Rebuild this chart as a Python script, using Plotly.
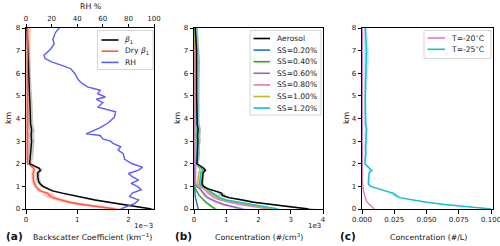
import plotly.graph_objects as go

# ---------------- data ----------------
H = [0, 0.1, 0.2, 0.3, 0.4, 0.5, 0.6, 0.7, 0.8, 0.9, 1.0, 1.1, 1.2, 1.4, 1.6, 1.7, 1.8, 1.9, 2.0,
     2.25, 2.5, 2.75, 3, 3.25, 3.5, 3.75, 4, 4.5, 5, 5.5, 6, 6.5, 7, 7.5, 8]

# panel (a): backscatter, units 1e-3 km^-1
beta1 = [2.45, 2.15, 1.9, 1.62, 1.35, 1.12, 0.92, 0.71, 0.52, 0.41, 0.33, 0.28, 0.25, 0.23, 0.23, 0.28, 0.26, 0.17, 0.07,
         0.08, 0.09, 0.1, 0.11, 0.1, 0.11, 0.09, 0.09, 0.08, 0.07, 0.06, 0.05, 0.05, 0.04, 0.03, 0.02]
beta1_sd = [0.12, 0.12, 0.11, 0.1, 0.1, 0.09, 0.08, 0.07, 0.06, 0.05, 0.05, 0.04, 0.04, 0.04, 0.04, 0.05, 0.05, 0.05, 0.04,
            0.06, 0.06, 0.06, 0.06, 0.06, 0.06, 0.05, 0.05, 0.05, 0.05, 0.05, 0.04, 0.04, 0.03, 0.03, 0.02]
dry_beta1 = [1.75, 1.4, 1.1, 0.85, 0.68, 0.52, 0.46, 0.42, 0.28, 0.23, 0.19, 0.17, 0.15, 0.14, 0.14, 0.16, 0.15, 0.1, 0.03,
             0.025, 0.025, 0.03, 0.03, 0.03, 0.03, 0.03, 0.03, 0.03, 0.03, 0.03, 0.03, 0.03, 0.03, 0.03, 0.03]
dry_beta1_sd = [0.2, 0.2, 0.18, 0.15, 0.13, 0.11, 0.1, 0.1, 0.07, 0.05, 0.04, 0.04, 0.04, 0.04, 0.04, 0.04, 0.04, 0.03, 0.02,
                0.02, 0.02, 0.02, 0.025, 0.025, 0.025, 0.03, 0.03, 0.035, 0.04, 0.04, 0.045, 0.05, 0.055, 0.06, 0.065]

H_RH = [0.0, 0.1, 0.25, 0.4, 0.55, 0.7, 0.85, 1.0, 1.13, 1.28, 1.43, 1.57, 1.72, 1.85, 2.0, 2.2, 2.45, 2.6, 2.75,
        2.9, 3.0, 3.1, 3.25, 3.32, 3.45, 3.6, 3.8, 4.05, 4.3, 4.5, 4.7, 4.85, 4.95, 5.1, 5.25, 5.4, 5.55, 5.7,
        6.0, 6.2, 6.35, 6.5, 6.65, 6.8, 7.05, 7.3, 7.5, 7.8, 8.0]
RH = [74, 79, 85, 88, 81, 83, 90, 87, 82, 88, 83, 80, 88, 91, 83, 77, 76, 72, 74,
      68, 66, 60, 58, 47, 52, 58, 64, 69, 70, 56, 60, 55, 62, 56, 58, 48, 44, 41,
      38, 35, 28, 20, 15, 14, 19, 22, 21, 23, 26]

# panel (b): number concentration, units 1e3 #/cm3
aerosol = [3.55, 3.0, 2.4, 1.85, 1.5, 1.08, 0.88, 0.85, 0.65, 0.42, 0.3, 0.25, 0.25, 0.26, 0.28, 0.35, 0.3, 0.2, 0.09,
           0.1, 0.11, 0.1, 0.12, 0.11, 0.13, 0.1, 0.09, 0.09, 0.08, 0.08, 0.08, 0.09, 0.08, 0.06, 0.04]
aerosol_sd = [0.25, 0.22, 0.2, 0.17, 0.15, 0.12, 0.1, 0.1, 0.09, 0.07, 0.06, 0.05, 0.05, 0.05, 0.05, 0.06, 0.06, 0.05, 0.05,
              0.08, 0.08, 0.08, 0.09, 0.09, 0.09, 0.08, 0.08, 0.08, 0.08, 0.09, 0.1, 0.1, 0.1, 0.09, 0.08]
ss020 = [0.13, 0.11, 0.09, 0.07, 0.055, 0.045, 0.035, 0.028, 0.02, 0.015, 0.01, 0.006, 0.004, 0.004, 0.004, 0.004, 0.004, 0.003, 0.003,
         0.002, 0.002, 0.002, 0.002, 0.002, 0.002, 0.002, 0.002, 0.002, 0.002, 0.002, 0.002, 0.002, 0.002, 0.002, 0.002]
ss040 = [0.66, 0.55, 0.45, 0.37, 0.3, 0.22, 0.16, 0.12, 0.07, 0.04, 0.02, 0.01, 0.008, 0.008, 0.008, 0.01, 0.008, 0.006, 0.005,
         0.005, 0.005, 0.005, 0.005, 0.005, 0.005, 0.004, 0.004, 0.004, 0.004, 0.004, 0.004, 0.004, 0.004, 0.003, 0.003]
ss060 = [1.5, 1.17, 0.92, 0.72, 0.55, 0.42, 0.35, 0.3, 0.24, 0.18, 0.08, 0.03, 0.02, 0.02, 0.025, 0.03, 0.025, 0.02, 0.015,
         0.015, 0.015, 0.015, 0.015, 0.015, 0.015, 0.012, 0.012, 0.012, 0.01, 0.01, 0.01, 0.01, 0.01, 0.008, 0.006]
ss080 = [2.3, 1.8, 1.45, 1.1, 0.8, 0.62, 0.52, 0.45, 0.38, 0.3, 0.15, 0.06, 0.05, 0.05, 0.06, 0.07, 0.06, 0.05, 0.03,
         0.03, 0.03, 0.03, 0.035, 0.03, 0.035, 0.03, 0.03, 0.03, 0.025, 0.025, 0.025, 0.03, 0.025, 0.02, 0.015]
ss100 = [2.45, 2.05, 1.65, 1.28, 0.92, 0.72, 0.6, 0.52, 0.44, 0.35, 0.2, 0.12, 0.12, 0.13, 0.15, 0.19, 0.17, 0.11, 0.05,
         0.05, 0.05, 0.05, 0.06, 0.05, 0.06, 0.05, 0.05, 0.05, 0.04, 0.04, 0.04, 0.05, 0.04, 0.03, 0.02]
ss120 = [2.6, 2.2, 1.8, 1.4, 1.0, 0.8, 0.68, 0.58, 0.5, 0.4, 0.25, 0.18, 0.18, 0.19, 0.21, 0.27, 0.23, 0.15, 0.07,
         0.08, 0.09, 0.08, 0.1, 0.09, 0.11, 0.08, 0.08, 0.08, 0.07, 0.07, 0.07, 0.08, 0.07, 0.05, 0.03]
ss020_sd = [0.02, 0.02, 0.015, 0.012, 0.01, 0.008, 0.006, 0.005, 0.004, 0.003, 0.002, 0.002, 0.002, 0.002, 0.002, 0.002, 0.002, 0.002, 0.002,
            0.002, 0.002, 0.002, 0.002, 0.002, 0.002, 0.002, 0.002, 0.002, 0.002, 0.002, 0.002, 0.002, 0.002, 0.002, 0.002]
ss040_sd = [0.08, 0.07, 0.06, 0.05, 0.04, 0.03, 0.03, 0.02, 0.02, 0.01, 0.01, 0.005, 0.005, 0.005, 0.005, 0.005, 0.005, 0.005, 0.005,
            0.005, 0.005, 0.005, 0.005, 0.005, 0.005, 0.005, 0.005, 0.005, 0.005, 0.005, 0.005, 0.005, 0.005, 0.005, 0.005]
ss060_sd = [0.2, 0.17, 0.14, 0.12, 0.1, 0.08, 0.07, 0.06, 0.05, 0.04, 0.02, 0.01, 0.01, 0.01, 0.01, 0.01, 0.01, 0.01, 0.01,
            0.01, 0.01, 0.01, 0.01, 0.01, 0.01, 0.01, 0.01, 0.01, 0.01, 0.01, 0.01, 0.01, 0.01, 0.01, 0.01]
ss080_sd = [0.13, 0.11, 0.09, 0.08, 0.07, 0.06, 0.05, 0.05, 0.04, 0.03, 0.02, 0.01, 0.01, 0.01, 0.01, 0.01, 0.01, 0.01, 0.01,
            0.02, 0.02, 0.02, 0.02, 0.02, 0.02, 0.02, 0.02, 0.02, 0.02, 0.02, 0.02, 0.02, 0.02, 0.02, 0.02]
ss100_sd = [0.14, 0.12, 0.1, 0.09, 0.07, 0.06, 0.05, 0.05, 0.04, 0.04, 0.03, 0.02, 0.02, 0.02, 0.02, 0.02, 0.02, 0.02, 0.02,
            0.05, 0.05, 0.05, 0.05, 0.05, 0.05, 0.05, 0.05, 0.05, 0.05, 0.05, 0.05, 0.05, 0.05, 0.05, 0.05]
ss120_sd = [0.15, 0.13, 0.11, 0.1, 0.08, 0.07, 0.06, 0.06, 0.05, 0.04, 0.03, 0.03, 0.03, 0.03, 0.03, 0.04, 0.04, 0.03, 0.03,
            0.08, 0.08, 0.08, 0.08, 0.08, 0.08, 0.08, 0.08, 0.08, 0.08, 0.08, 0.09, 0.09, 0.09, 0.08, 0.07]

# panel (c): INP concentration, #/L
t20 = [0.0095, 0.0075, 0.0055, 0.004, 0.0032, 0.0025, 0.002, 0.0016, 0.0012, 0.0009, 0.0006, 0.0004, 0.0003, 0.0002, 0.0002, 0.0002, 0.0002, 0.0002, 0.0002,
       0.0002, 0.0002, 0.0002, 0.0002, 0.0002, 0.0002, 0.0002, 0.0002, 0.0002, 0.0002, 0.0002, 0.0002, 0.0002, 0.0002, 0.0002, 0.0002]
t20_sd = [0.0008, 0.0007, 0.0006, 0.0005, 0.0004, 0.0004, 0.0003, 0.0003, 0.0003, 0.0003, 0.0002, 0.0002, 0.0002, 0.0002, 0.0002, 0.0002, 0.0002, 0.0002, 0.0002,
          0.0002, 0.0002, 0.0002, 0.0002, 0.0002, 0.0002, 0.0002, 0.0002, 0.0002, 0.0002, 0.0002, 0.0002, 0.0002, 0.0002, 0.0002, 0.0002]
t25 = [0.100, 0.080, 0.064, 0.050, 0.039, 0.029, 0.026, 0.024, 0.018, 0.012, 0.0068, 0.005, 0.005, 0.005, 0.0055, 0.0075, 0.006, 0.004, 0.0022,
       0.0025, 0.003, 0.0027, 0.0032, 0.003, 0.0035, 0.0028, 0.0026, 0.0025, 0.0025, 0.0028, 0.003, 0.0035, 0.0035, 0.003, 0.0025]
t25_sd = [0.002, 0.002, 0.0018, 0.0016, 0.0015, 0.0015, 0.0025, 0.003, 0.002, 0.0015, 0.001, 0.0008, 0.0008, 0.0008, 0.001, 0.0015, 0.0015, 0.001, 0.0008,
          0.001, 0.001, 0.0012, 0.0012, 0.0012, 0.0012, 0.0012, 0.001, 0.001, 0.001, 0.0012, 0.0015, 0.0018, 0.0018, 0.0015, 0.0012]

XTICKS_A = [0, 1, 2]
XTICKS_RH = [0, 20, 40, 60, 80, 100]
XTICKS_B = [0, 1, 2, 3, 4]
XTICKS_C = [0.0, 0.025, 0.05, 0.075, 0.1]
XTICKTEXT_C = ["0.000", "0.025", "0.050", "0.075", "0.100"]
YTICKS = [0, 1, 2, 3, 4, 5, 6, 7, 8]

# ---------------- figure ----------------
W, HT = 500, 246
FONT = "DejaVu Sans"
FS_TICK = 7
FS_LAB = 7.8
FS_LEG = 7.6


def fx(p):
    return p / W


def fy(p):
    return 1 - p / HT


def rgba(hexc, a):
    hexc = hexc.lstrip("#")
    r, g, b = int(hexc[0:2], 16), int(hexc[2:4], 16), int(hexc[4:6], 16)
    return f"rgba({r},{g},{b},{a})"


fig = go.Figure()


def band(mean, sd, color, alpha, xa, ya):
    lo = [m - s for m, s in zip(mean, sd)]
    hi = [m + s for m, s in zip(mean, sd)]
    fig.add_trace(go.Scatter(x=lo + hi[::-1], y=H + H[::-1], fill="toself",
                             fillcolor=rgba(color, alpha), line=dict(width=0),
                             hoverinfo="skip", showlegend=False, xaxis=xa, yaxis=ya))


def line(x, y, color, name, xa, ya, width=1.4):
    fig.add_trace(go.Scatter(x=x, y=y, mode="lines", name=name,
                             line=dict(color=color, width=width),
                             xaxis=xa, yaxis=ya, showlegend=False))


BLACK = "#000000"
RED = "#ff5a40"
BLUE = "#5c5cff"

# panel a
leg_a = [("<i>β</i><sub>1</sub>", BLACK), ("Dry <i>β</i><sub>1</sub>", RED), ("RH", BLUE)]
band(beta1, beta1_sd, "#808080", 0.45, "x", "y")
band(dry_beta1, dry_beta1_sd, RED, 0.35, "x", "y")
line(beta1, H, BLACK, leg_a[0][0], "x", "y")
line(dry_beta1, H, RED, leg_a[1][0], "x", "y")
line(RH, H_RH, BLUE, "RH", "x4", "y")

# panel b
ss_series = [("SS=0.20%", ss020, ss020_sd, "#1f77b4"),
             ("SS=0.40%", ss040, ss040_sd, "#2ca02c"),
             ("SS=0.60%", ss060, ss060_sd, "#9467bd"),
             ("SS=0.80%", ss080, ss080_sd, "#e377c2"),
             ("SS=1.00%", ss100, ss100_sd, "#bcbd22"),
             ("SS=1.20%", ss120, ss120_sd, "#17becf")]
band(aerosol, aerosol_sd, "#808080", 0.55, "x2", "y2")
for nm, v, s, c in ss_series:
    band(v, s, c, 0.3, "x2", "y2")
for nm, v, s, c in ss_series:
    line(v, H, c, nm, "x2", "y2")
line(aerosol, H, BLACK, "Aerosol", "x2", "y2")
leg_b = [("Aerosol", BLACK)] + [(nm, c) for nm, v, s, c in ss_series]

# panel c
leg_c = [("T=-20<sup>∘</sup>C", "#e377c2"), ("T=-25<sup>∘</sup>C", "#17becf")]
band(t20, t20_sd, "#e377c2", 0.3, "x3", "y3")
band(t25, t25_sd, "#17becf", 0.3, "x3", "y3")
line(t20, H, "#e377c2", leg_c[0][0], "x3", "y3")
line(t25, H, "#17becf", leg_c[1][0], "x3", "y3")

axis_common = dict(showline=True, linecolor="#000000", linewidth=1, mirror=True,
                   ticks="outside", ticklen=3.5, tickwidth=1, tickcolor="#000000",
                   showgrid=False, zeroline=False, automargin=False, ticklabeloverflow="allow",
                   tickfont=dict(family=FONT, size=FS_TICK, color="#222222"))

YD = [fy(209), fy(28)]
fig.update_layout(
    width=W, height=HT, margin=dict(l=0, r=0, t=0, b=0, autoexpand=False),
    paper_bgcolor="white", plot_bgcolor="white", showlegend=False,
    font=dict(family=FONT, size=FS_LAB, color="#222222"),
    xaxis=dict(domain=[fx(26), fx(154)], range=[0, 2.5], tickvals=XTICKS_A, anchor="y", **axis_common),
    xaxis4=dict(overlaying="x", side="top", range=[0, 100], tickvals=XTICKS_RH, anchor="y",
                **{k: v for k, v in axis_common.items() if k != "mirror"}),
    xaxis2=dict(domain=[fx(194), fx(323)], range=[0, 4], tickvals=XTICKS_B, anchor="y2", **axis_common),
    xaxis3=dict(domain=[fx(362), fx(493)], range=[0, 0.1015], tickvals=XTICKS_C, ticktext=XTICKTEXT_C,
                anchor="y3", **axis_common),
    yaxis=dict(domain=YD, range=[0, 8], tickvals=YTICKS, anchor="x", **axis_common),
    yaxis2=dict(domain=YD, range=[0, 8], tickvals=YTICKS, anchor="x2", **axis_common),
    yaxis3=dict(domain=YD, range=[0, 8], tickvals=YTICKS, anchor="x3", **axis_common),
)

ann = []
shapes = []


def text(s, x, y, size=FS_LAB, bold=False, xanchor="center", angle=0, color="#111111"):
    ann.append(dict(text=f"<b>{s}</b>" if bold else s, x=fx(x), y=fy(y), xref="paper", yref="paper",
                    showarrow=False, xanchor=xanchor, yanchor="middle", textangle=angle,
                    font=dict(family=FONT, size=size, color=color)))


def legend_box(entries, x0, x1, y0, y1, first_y, step, line_x0, line_x1, text_x):
    shapes.append(dict(type="rect", xref="paper", yref="paper", x0=fx(x0), x1=fx(x1), y0=fy(y1), y1=fy(y0),
                       fillcolor="rgba(255,255,255,0.85)", line=dict(color="#d4d4d4", width=1), layer="above"))
    for i, (name, color) in enumerate(entries):
        yy = first_y + i * step
        shapes.append(dict(type="line", xref="paper", yref="paper", x0=fx(line_x0), x1=fx(line_x1),
                           y0=fy(yy), y1=fy(yy), line=dict(color=color, width=1.6), layer="above"))
        text(name, text_x, yy, size=FS_LEG, xanchor="left", color="#222222")


legend_box(leg_a, 97.5, 153, 30.5, 69.5, 40, 11.2, 101.5, 118.5, 123)
legend_box(leg_b, 250, 321, 30.5, 115, 38.5, 11.6, 253.5, 270, 274.5)
legend_box(leg_c, 424, 491, 30.5, 58.5, 38, 11.3, 427.5, 445, 449)

text("RH %", 90, 6)
text("(a)", 14, 236, size=10.5, bold=True)
text("(b)", 183, 236, size=10.5, bold=True)
text("(c)", 348, 236, size=10.5, bold=True)
text("Backscatter Coefficient (km<sup>−1</sup>)", 92, 237)
text("Concentration (#/cm<sup>3</sup>)", 259, 237)
text("Concentration (#/L)", 428, 237)
text("1e−3", 155, 226, size=FS_TICK, xanchor="right")
text("1e3", 323, 226, size=FS_TICK, xanchor="right")
text("km", 8, 118, angle=-90)
text("km", 177, 118, angle=-90)
text("km", 346, 118, angle=-90)
fig.update_layout(annotations=ann, shapes=shapes)

fig.write_html("out.html", config={"displayModeBar": False},
               post_script="document.body.style.margin='0';document.body.style.overflow='hidden';")
